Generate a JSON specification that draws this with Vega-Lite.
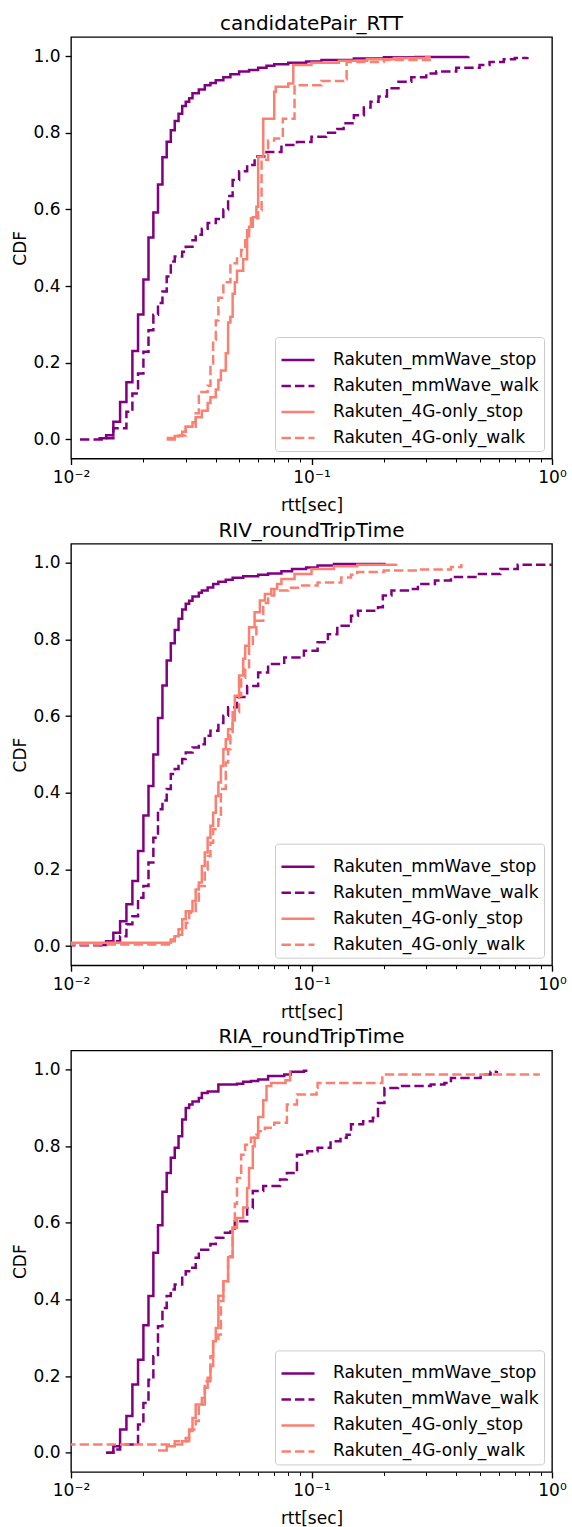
{
  "$schema": "https://vega.github.io/schema/vega-lite/v6.json",
  "padding": {"left": 10, "top": 13, "right": 0, "bottom": 0},
  "bounds": "flush",
  "spacing": 84.7,
  "resolve": {"legend": {"color": "independent", "strokeDash": "independent"}},
  "config": {
    "font": "DejaVu Sans",
    "view": {"stroke": "black", "strokeWidth": 1.35},
    "axis": {"domain": false, "grid": false, "labelFontSize": 17, "labelColor": "black", "titleFontSize": 17, "titleFontWeight": "normal", "titleColor": "black", "tickColor": "black", "labelFont": "DejaVu Sans", "titleFont": "DejaVu Sans"},
    "title": {"fontSize": 20, "fontWeight": "normal", "color": "black", "anchor": "middle", "offset": 3, "baseline": "alphabetic", "font": "DejaVu Sans"},
    "legend": {"orient": "bottom-right", "offset": 8, "padding": 5, "fillColor": "rgba(255,255,255,0.8)", "strokeColor": "#cccccc", "cornerRadius": 3, "symbolType": "stroke", "symbolSize": 1089, "symbolStrokeWidth": 2.5, "labelFontSize": 17, "labelColor": "black", "labelFont": "DejaVu Sans", "labelOffset": 17, "rowPadding": 0, "labelLimit": 400}
  },
  "datasets": {
    "p1": [
      {"series":"Rakuten_mmWave_stop","rtt":0.013,"cdf":0.003},{"series":"Rakuten_mmWave_stop","rtt":0.014,"cdf":0.011},{"series":"Rakuten_mmWave_stop","rtt":0.015,"cdf":0.046},{"series":"Rakuten_mmWave_stop","rtt":0.016,"cdf":0.098},{"series":"Rakuten_mmWave_stop","rtt":0.017,"cdf":0.149},{"series":"Rakuten_mmWave_stop","rtt":0.018,"cdf":0.231},{"series":"Rakuten_mmWave_stop","rtt":0.019,"cdf":0.326},{"series":"Rakuten_mmWave_stop","rtt":0.020,"cdf":0.417},{"series":"Rakuten_mmWave_stop","rtt":0.021,"cdf":0.527},{"series":"Rakuten_mmWave_stop","rtt":0.022,"cdf":0.592},{"series":"Rakuten_mmWave_stop","rtt":0.023,"cdf":0.665},{"series":"Rakuten_mmWave_stop","rtt":0.024,"cdf":0.736},{"series":"Rakuten_mmWave_stop","rtt":0.025,"cdf":0.777},{"series":"Rakuten_mmWave_stop","rtt":0.026,"cdf":0.807},{"series":"Rakuten_mmWave_stop","rtt":0.027,"cdf":0.831},{"series":"Rakuten_mmWave_stop","rtt":0.028,"cdf":0.850},{"series":"Rakuten_mmWave_stop","rtt":0.029,"cdf":0.870},{"series":"Rakuten_mmWave_stop","rtt":0.030,"cdf":0.881},{"series":"Rakuten_mmWave_stop","rtt":0.031,"cdf":0.890},{"series":"Rakuten_mmWave_stop","rtt":0.032,"cdf":0.903},{"series":"Rakuten_mmWave_stop","rtt":0.034,"cdf":0.913},{"series":"Rakuten_mmWave_stop","rtt":0.036,"cdf":0.924},{"series":"Rakuten_mmWave_stop","rtt":0.038,"cdf":0.930},{"series":"Rakuten_mmWave_stop","rtt":0.040,"cdf":0.937},{"series":"Rakuten_mmWave_stop","rtt":0.043,"cdf":0.945},{"series":"Rakuten_mmWave_stop","rtt":0.046,"cdf":0.953},{"series":"Rakuten_mmWave_stop","rtt":0.050,"cdf":0.960},{"series":"Rakuten_mmWave_stop","rtt":0.055,"cdf":0.964},{"series":"Rakuten_mmWave_stop","rtt":0.060,"cdf":0.970},{"series":"Rakuten_mmWave_stop","rtt":0.065,"cdf":0.975},{"series":"Rakuten_mmWave_stop","rtt":0.070,"cdf":0.979},{"series":"Rakuten_mmWave_stop","rtt":0.080,"cdf":0.983},{"series":"Rakuten_mmWave_stop","rtt":0.095,"cdf":0.986},{"series":"Rakuten_mmWave_stop","rtt":0.110,"cdf":0.990},{"series":"Rakuten_mmWave_stop","rtt":0.150,"cdf":0.994},{"series":"Rakuten_mmWave_stop","rtt":0.200,"cdf":0.997},{"series":"Rakuten_mmWave_stop","rtt":0.270,"cdf":0.998},{"series":"Rakuten_mmWave_stop","rtt":0.449,"cdf":1.0},
      {"series":"Rakuten_mmWave_walk","rtt":0.0109,"cdf":0.0},{"series":"Rakuten_mmWave_walk","rtt":0.014,"cdf":0.003},{"series":"Rakuten_mmWave_walk","rtt":0.015,"cdf":0.029},{"series":"Rakuten_mmWave_walk","rtt":0.017,"cdf":0.072},{"series":"Rakuten_mmWave_walk","rtt":0.018,"cdf":0.12},{"series":"Rakuten_mmWave_walk","rtt":0.019,"cdf":0.172},{"series":"Rakuten_mmWave_walk","rtt":0.020,"cdf":0.229},{"series":"Rakuten_mmWave_walk","rtt":0.021,"cdf":0.285},{"series":"Rakuten_mmWave_walk","rtt":0.022,"cdf":0.325},{"series":"Rakuten_mmWave_walk","rtt":0.023,"cdf":0.356},{"series":"Rakuten_mmWave_walk","rtt":0.024,"cdf":0.386},{"series":"Rakuten_mmWave_walk","rtt":0.025,"cdf":0.425},{"series":"Rakuten_mmWave_walk","rtt":0.026,"cdf":0.464},{"series":"Rakuten_mmWave_walk","rtt":0.027,"cdf":0.477},{"series":"Rakuten_mmWave_walk","rtt":0.029,"cdf":0.49},{"series":"Rakuten_mmWave_walk","rtt":0.030,"cdf":0.503},{"series":"Rakuten_mmWave_walk","rtt":0.032,"cdf":0.52},{"series":"Rakuten_mmWave_walk","rtt":0.033,"cdf":0.534},{"series":"Rakuten_mmWave_walk","rtt":0.035,"cdf":0.55},{"series":"Rakuten_mmWave_walk","rtt":0.037,"cdf":0.565},{"series":"Rakuten_mmWave_walk","rtt":0.040,"cdf":0.575},{"series":"Rakuten_mmWave_walk","rtt":0.043,"cdf":0.60},{"series":"Rakuten_mmWave_walk","rtt":0.045,"cdf":0.635},{"series":"Rakuten_mmWave_walk","rtt":0.047,"cdf":0.677},{"series":"Rakuten_mmWave_walk","rtt":0.050,"cdf":0.70},{"series":"Rakuten_mmWave_walk","rtt":0.054,"cdf":0.716},{"series":"Rakuten_mmWave_walk","rtt":0.058,"cdf":0.738},{"series":"Rakuten_mmWave_walk","rtt":0.065,"cdf":0.75},{"series":"Rakuten_mmWave_walk","rtt":0.075,"cdf":0.768},{"series":"Rakuten_mmWave_walk","rtt":0.087,"cdf":0.776},{"series":"Rakuten_mmWave_walk","rtt":0.100,"cdf":0.79},{"series":"Rakuten_mmWave_walk","rtt":0.115,"cdf":0.80},{"series":"Rakuten_mmWave_walk","rtt":0.128,"cdf":0.81},{"series":"Rakuten_mmWave_walk","rtt":0.136,"cdf":0.825},{"series":"Rakuten_mmWave_walk","rtt":0.150,"cdf":0.846},{"series":"Rakuten_mmWave_walk","rtt":0.165,"cdf":0.866},{"series":"Rakuten_mmWave_walk","rtt":0.176,"cdf":0.881},{"series":"Rakuten_mmWave_walk","rtt":0.190,"cdf":0.895},{"series":"Rakuten_mmWave_walk","rtt":0.206,"cdf":0.916},{"series":"Rakuten_mmWave_walk","rtt":0.230,"cdf":0.933},{"series":"Rakuten_mmWave_walk","rtt":0.26,"cdf":0.945},{"series":"Rakuten_mmWave_walk","rtt":0.30,"cdf":0.955},{"series":"Rakuten_mmWave_walk","rtt":0.33,"cdf":0.96},{"series":"Rakuten_mmWave_walk","rtt":0.40,"cdf":0.97},{"series":"Rakuten_mmWave_walk","rtt":0.50,"cdf":0.977},{"series":"Rakuten_mmWave_walk","rtt":0.55,"cdf":0.985},{"series":"Rakuten_mmWave_walk","rtt":0.63,"cdf":0.992},{"series":"Rakuten_mmWave_walk","rtt":0.70,"cdf":0.995},{"series":"Rakuten_mmWave_walk","rtt":0.79,"cdf":0.998},
      {"series":"Rakuten_4G-only_stop","rtt":0.025,"cdf":0.004},{"series":"Rakuten_4G-only_stop","rtt":0.027,"cdf":0.009},{"series":"Rakuten_4G-only_stop","rtt":0.029,"cdf":0.02},{"series":"Rakuten_4G-only_stop","rtt":0.030,"cdf":0.033},{"series":"Rakuten_4G-only_stop","rtt":0.032,"cdf":0.045},{"series":"Rakuten_4G-only_stop","rtt":0.033,"cdf":0.058},{"series":"Rakuten_4G-only_stop","rtt":0.035,"cdf":0.075},{"series":"Rakuten_4G-only_stop","rtt":0.037,"cdf":0.095},{"series":"Rakuten_4G-only_stop","rtt":0.038,"cdf":0.11},{"series":"Rakuten_4G-only_stop","rtt":0.040,"cdf":0.13},{"series":"Rakuten_4G-only_stop","rtt":0.041,"cdf":0.155},{"series":"Rakuten_4G-only_stop","rtt":0.042,"cdf":0.18},{"series":"Rakuten_4G-only_stop","rtt":0.044,"cdf":0.225},{"series":"Rakuten_4G-only_stop","rtt":0.045,"cdf":0.305},{"series":"Rakuten_4G-only_stop","rtt":0.046,"cdf":0.32},{"series":"Rakuten_4G-only_stop","rtt":0.047,"cdf":0.38},{"series":"Rakuten_4G-only_stop","rtt":0.048,"cdf":0.41},{"series":"Rakuten_4G-only_stop","rtt":0.049,"cdf":0.44},{"series":"Rakuten_4G-only_stop","rtt":0.052,"cdf":0.47},{"series":"Rakuten_4G-only_stop","rtt":0.054,"cdf":0.53},{"series":"Rakuten_4G-only_stop","rtt":0.055,"cdf":0.555},{"series":"Rakuten_4G-only_stop","rtt":0.057,"cdf":0.58},{"series":"Rakuten_4G-only_stop","rtt":0.059,"cdf":0.607},{"series":"Rakuten_4G-only_stop","rtt":0.060,"cdf":0.737},{"series":"Rakuten_4G-only_stop","rtt":0.063,"cdf":0.837},{"series":"Rakuten_4G-only_stop","rtt":0.070,"cdf":0.907},{"series":"Rakuten_4G-only_stop","rtt":0.071,"cdf":0.92},{"series":"Rakuten_4G-only_stop","rtt":0.080,"cdf":0.929},{"series":"Rakuten_4G-only_stop","rtt":0.084,"cdf":0.977},{"series":"Rakuten_4G-only_stop","rtt":0.10,"cdf":0.983},{"series":"Rakuten_4G-only_stop","rtt":0.13,"cdf":0.988},{"series":"Rakuten_4G-only_stop","rtt":0.17,"cdf":0.992},{"series":"Rakuten_4G-only_stop","rtt":0.22,"cdf":0.995},{"series":"Rakuten_4G-only_stop","rtt":0.30,"cdf":0.998},{"series":"Rakuten_4G-only_stop","rtt":0.31,"cdf":1.0},
      {"series":"Rakuten_4G-only_walk","rtt":0.025,"cdf":0.0},{"series":"Rakuten_4G-only_walk","rtt":0.028,"cdf":0.01},{"series":"Rakuten_4G-only_walk","rtt":0.030,"cdf":0.033},{"series":"Rakuten_4G-only_walk","rtt":0.033,"cdf":0.068},{"series":"Rakuten_4G-only_walk","rtt":0.034,"cdf":0.124},{"series":"Rakuten_4G-only_walk","rtt":0.037,"cdf":0.14},{"series":"Rakuten_4G-only_walk","rtt":0.038,"cdf":0.198},{"series":"Rakuten_4G-only_walk","rtt":0.039,"cdf":0.26},{"series":"Rakuten_4G-only_walk","rtt":0.040,"cdf":0.31},{"series":"Rakuten_4G-only_walk","rtt":0.041,"cdf":0.37},{"series":"Rakuten_4G-only_walk","rtt":0.043,"cdf":0.41},{"series":"Rakuten_4G-only_walk","rtt":0.046,"cdf":0.46},{"series":"Rakuten_4G-only_walk","rtt":0.049,"cdf":0.477},{"series":"Rakuten_4G-only_walk","rtt":0.051,"cdf":0.494},{"series":"Rakuten_4G-only_walk","rtt":0.053,"cdf":0.52},{"series":"Rakuten_4G-only_walk","rtt":0.054,"cdf":0.546},{"series":"Rakuten_4G-only_walk","rtt":0.056,"cdf":0.577},{"series":"Rakuten_4G-only_walk","rtt":0.060,"cdf":0.598},{"series":"Rakuten_4G-only_walk","rtt":0.062,"cdf":0.73},{"series":"Rakuten_4G-only_walk","rtt":0.066,"cdf":0.78},{"series":"Rakuten_4G-only_walk","rtt":0.070,"cdf":0.785},{"series":"Rakuten_4G-only_walk","rtt":0.076,"cdf":0.837},{"series":"Rakuten_4G-only_walk","rtt":0.085,"cdf":0.924},{"series":"Rakuten_4G-only_walk","rtt":0.11,"cdf":0.935},{"series":"Rakuten_4G-only_walk","rtt":0.139,"cdf":0.94},{"series":"Rakuten_4G-only_walk","rtt":0.140,"cdf":0.985},{"series":"Rakuten_4G-only_walk","rtt":0.20,"cdf":0.99},{"series":"Rakuten_4G-only_walk","rtt":0.31,"cdf":0.995}
    ],
    "p2": [
      {"series":"Rakuten_mmWave_stop","rtt":0.013,"cdf":0.003},{"series":"Rakuten_mmWave_stop","rtt":0.014,"cdf":0.013},{"series":"Rakuten_mmWave_stop","rtt":0.015,"cdf":0.035},{"series":"Rakuten_mmWave_stop","rtt":0.016,"cdf":0.065},{"series":"Rakuten_mmWave_stop","rtt":0.017,"cdf":0.109},{"series":"Rakuten_mmWave_stop","rtt":0.018,"cdf":0.17},{"series":"Rakuten_mmWave_stop","rtt":0.019,"cdf":0.248},{"series":"Rakuten_mmWave_stop","rtt":0.020,"cdf":0.341},{"series":"Rakuten_mmWave_stop","rtt":0.021,"cdf":0.418},{"series":"Rakuten_mmWave_stop","rtt":0.022,"cdf":0.50},{"series":"Rakuten_mmWave_stop","rtt":0.023,"cdf":0.595},{"series":"Rakuten_mmWave_stop","rtt":0.024,"cdf":0.68},{"series":"Rakuten_mmWave_stop","rtt":0.025,"cdf":0.745},{"series":"Rakuten_mmWave_stop","rtt":0.026,"cdf":0.79},{"series":"Rakuten_mmWave_stop","rtt":0.027,"cdf":0.825},{"series":"Rakuten_mmWave_stop","rtt":0.028,"cdf":0.854},{"series":"Rakuten_mmWave_stop","rtt":0.029,"cdf":0.878},{"series":"Rakuten_mmWave_stop","rtt":0.030,"cdf":0.893},{"series":"Rakuten_mmWave_stop","rtt":0.031,"cdf":0.901},{"series":"Rakuten_mmWave_stop","rtt":0.032,"cdf":0.912},{"series":"Rakuten_mmWave_stop","rtt":0.034,"cdf":0.922},{"series":"Rakuten_mmWave_stop","rtt":0.035,"cdf":0.928},{"series":"Rakuten_mmWave_stop","rtt":0.037,"cdf":0.936},{"series":"Rakuten_mmWave_stop","rtt":0.039,"cdf":0.945},{"series":"Rakuten_mmWave_stop","rtt":0.041,"cdf":0.951},{"series":"Rakuten_mmWave_stop","rtt":0.044,"cdf":0.956},{"series":"Rakuten_mmWave_stop","rtt":0.047,"cdf":0.961},{"series":"Rakuten_mmWave_stop","rtt":0.052,"cdf":0.965},{"series":"Rakuten_mmWave_stop","rtt":0.060,"cdf":0.969},{"series":"Rakuten_mmWave_stop","rtt":0.066,"cdf":0.972},{"series":"Rakuten_mmWave_stop","rtt":0.075,"cdf":0.978},{"series":"Rakuten_mmWave_stop","rtt":0.083,"cdf":0.984},{"series":"Rakuten_mmWave_stop","rtt":0.095,"cdf":0.988},{"series":"Rakuten_mmWave_stop","rtt":0.106,"cdf":0.993},{"series":"Rakuten_mmWave_stop","rtt":0.124,"cdf":0.997},{"series":"Rakuten_mmWave_stop","rtt":0.201,"cdf":1.0},
      {"series":"Rakuten_mmWave_walk","rtt":0.005,"cdf":0.002},{"series":"Rakuten_mmWave_walk","rtt":0.014,"cdf":0.013},{"series":"Rakuten_mmWave_walk","rtt":0.016,"cdf":0.026},{"series":"Rakuten_mmWave_walk","rtt":0.017,"cdf":0.057},{"series":"Rakuten_mmWave_walk","rtt":0.018,"cdf":0.078},{"series":"Rakuten_mmWave_walk","rtt":0.019,"cdf":0.126},{"series":"Rakuten_mmWave_walk","rtt":0.020,"cdf":0.157},{"series":"Rakuten_mmWave_walk","rtt":0.021,"cdf":0.218},{"series":"Rakuten_mmWave_walk","rtt":0.022,"cdf":0.283},{"series":"Rakuten_mmWave_walk","rtt":0.023,"cdf":0.357},{"series":"Rakuten_mmWave_walk","rtt":0.024,"cdf":0.38},{"series":"Rakuten_mmWave_walk","rtt":0.025,"cdf":0.41},{"series":"Rakuten_mmWave_walk","rtt":0.026,"cdf":0.449},{"series":"Rakuten_mmWave_walk","rtt":0.027,"cdf":0.462},{"series":"Rakuten_mmWave_walk","rtt":0.028,"cdf":0.47},{"series":"Rakuten_mmWave_walk","rtt":0.029,"cdf":0.488},{"series":"Rakuten_mmWave_walk","rtt":0.030,"cdf":0.505},{"series":"Rakuten_mmWave_walk","rtt":0.032,"cdf":0.518},{"series":"Rakuten_mmWave_walk","rtt":0.034,"cdf":0.527},{"series":"Rakuten_mmWave_walk","rtt":0.036,"cdf":0.549},{"series":"Rakuten_mmWave_walk","rtt":0.038,"cdf":0.562},{"series":"Rakuten_mmWave_walk","rtt":0.041,"cdf":0.582},{"series":"Rakuten_mmWave_walk","rtt":0.043,"cdf":0.601},{"series":"Rakuten_mmWave_walk","rtt":0.045,"cdf":0.623},{"series":"Rakuten_mmWave_walk","rtt":0.049,"cdf":0.65},{"series":"Rakuten_mmWave_walk","rtt":0.054,"cdf":0.679},{"series":"Rakuten_mmWave_walk","rtt":0.060,"cdf":0.714},{"series":"Rakuten_mmWave_walk","rtt":0.066,"cdf":0.736},{"series":"Rakuten_mmWave_walk","rtt":0.077,"cdf":0.753},{"series":"Rakuten_mmWave_walk","rtt":0.093,"cdf":0.771},{"series":"Rakuten_mmWave_walk","rtt":0.106,"cdf":0.793},{"series":"Rakuten_mmWave_walk","rtt":0.117,"cdf":0.814},{"series":"Rakuten_mmWave_walk","rtt":0.128,"cdf":0.836},{"series":"Rakuten_mmWave_walk","rtt":0.146,"cdf":0.862},{"series":"Rakuten_mmWave_walk","rtt":0.156,"cdf":0.875},{"series":"Rakuten_mmWave_walk","rtt":0.189,"cdf":0.884},{"series":"Rakuten_mmWave_walk","rtt":0.198,"cdf":0.915},{"series":"Rakuten_mmWave_walk","rtt":0.215,"cdf":0.928},{"series":"Rakuten_mmWave_walk","rtt":0.26,"cdf":0.932},{"series":"Rakuten_mmWave_walk","rtt":0.277,"cdf":0.945},{"series":"Rakuten_mmWave_walk","rtt":0.326,"cdf":0.954},{"series":"Rakuten_mmWave_walk","rtt":0.38,"cdf":0.963},{"series":"Rakuten_mmWave_walk","rtt":0.49,"cdf":0.971},{"series":"Rakuten_mmWave_walk","rtt":0.61,"cdf":0.984},{"series":"Rakuten_mmWave_walk","rtt":0.72,"cdf":0.995},{"series":"Rakuten_mmWave_walk","rtt":1.0,"cdf":0.997},
      {"series":"Rakuten_4G-only_stop","rtt":0.005,"cdf":0.009},{"series":"Rakuten_4G-only_stop","rtt":0.026,"cdf":0.017},{"series":"Rakuten_4G-only_stop","rtt":0.027,"cdf":0.026},{"series":"Rakuten_4G-only_stop","rtt":0.028,"cdf":0.044},{"series":"Rakuten_4G-only_stop","rtt":0.029,"cdf":0.07},{"series":"Rakuten_4G-only_stop","rtt":0.030,"cdf":0.091},{"series":"Rakuten_4G-only_stop","rtt":0.032,"cdf":0.118},{"series":"Rakuten_4G-only_stop","rtt":0.033,"cdf":0.148},{"series":"Rakuten_4G-only_stop","rtt":0.034,"cdf":0.166},{"series":"Rakuten_4G-only_stop","rtt":0.035,"cdf":0.209},{"series":"Rakuten_4G-only_stop","rtt":0.036,"cdf":0.244},{"series":"Rakuten_4G-only_stop","rtt":0.037,"cdf":0.283},{"series":"Rakuten_4G-only_stop","rtt":0.038,"cdf":0.314},{"series":"Rakuten_4G-only_stop","rtt":0.039,"cdf":0.348},{"series":"Rakuten_4G-only_stop","rtt":0.040,"cdf":0.392},{"series":"Rakuten_4G-only_stop","rtt":0.041,"cdf":0.427},{"series":"Rakuten_4G-only_stop","rtt":0.042,"cdf":0.47},{"series":"Rakuten_4G-only_stop","rtt":0.043,"cdf":0.514},{"series":"Rakuten_4G-only_stop","rtt":0.044,"cdf":0.54},{"series":"Rakuten_4G-only_stop","rtt":0.045,"cdf":0.566},{"series":"Rakuten_4G-only_stop","rtt":0.047,"cdf":0.61},{"series":"Rakuten_4G-only_stop","rtt":0.048,"cdf":0.653},{"series":"Rakuten_4G-only_stop","rtt":0.050,"cdf":0.706},{"series":"Rakuten_4G-only_stop","rtt":0.052,"cdf":0.75},{"series":"Rakuten_4G-only_stop","rtt":0.053,"cdf":0.784},{"series":"Rakuten_4G-only_stop","rtt":0.055,"cdf":0.832},{"series":"Rakuten_4G-only_stop","rtt":0.058,"cdf":0.871},{"series":"Rakuten_4G-only_stop","rtt":0.061,"cdf":0.902},{"series":"Rakuten_4G-only_stop","rtt":0.064,"cdf":0.919},{"series":"Rakuten_4G-only_stop","rtt":0.068,"cdf":0.932},{"series":"Rakuten_4G-only_stop","rtt":0.072,"cdf":0.945},{"series":"Rakuten_4G-only_stop","rtt":0.075,"cdf":0.958},{"series":"Rakuten_4G-only_stop","rtt":0.085,"cdf":0.971},{"series":"Rakuten_4G-only_stop","rtt":0.10,"cdf":0.984},{"series":"Rakuten_4G-only_stop","rtt":0.124,"cdf":0.991},{"series":"Rakuten_4G-only_stop","rtt":0.155,"cdf":0.995},{"series":"Rakuten_4G-only_stop","rtt":0.225,"cdf":0.998},
      {"series":"Rakuten_4G-only_walk","rtt":0.005,"cdf":0.004},{"series":"Rakuten_4G-only_walk","rtt":0.026,"cdf":0.013},{"series":"Rakuten_4G-only_walk","rtt":0.027,"cdf":0.03},{"series":"Rakuten_4G-only_walk","rtt":0.029,"cdf":0.044},{"series":"Rakuten_4G-only_walk","rtt":0.030,"cdf":0.061},{"series":"Rakuten_4G-only_walk","rtt":0.031,"cdf":0.087},{"series":"Rakuten_4G-only_walk","rtt":0.033,"cdf":0.113},{"series":"Rakuten_4G-only_walk","rtt":0.034,"cdf":0.157},{"series":"Rakuten_4G-only_walk","rtt":0.036,"cdf":0.2},{"series":"Rakuten_4G-only_walk","rtt":0.037,"cdf":0.235},{"series":"Rakuten_4G-only_walk","rtt":0.038,"cdf":0.27},{"series":"Rakuten_4G-only_walk","rtt":0.039,"cdf":0.305},{"series":"Rakuten_4G-only_walk","rtt":0.041,"cdf":0.331},{"series":"Rakuten_4G-only_walk","rtt":0.042,"cdf":0.41},{"series":"Rakuten_4G-only_walk","rtt":0.044,"cdf":0.479},{"series":"Rakuten_4G-only_walk","rtt":0.045,"cdf":0.514},{"series":"Rakuten_4G-only_walk","rtt":0.046,"cdf":0.55},{"series":"Rakuten_4G-only_walk","rtt":0.047,"cdf":0.58},{"series":"Rakuten_4G-only_walk","rtt":0.048,"cdf":0.61},{"series":"Rakuten_4G-only_walk","rtt":0.050,"cdf":0.653},{"series":"Rakuten_4G-only_walk","rtt":0.051,"cdf":0.70},{"series":"Rakuten_4G-only_walk","rtt":0.053,"cdf":0.723},{"series":"Rakuten_4G-only_walk","rtt":0.055,"cdf":0.784},{"series":"Rakuten_4G-only_walk","rtt":0.057,"cdf":0.81},{"series":"Rakuten_4G-only_walk","rtt":0.059,"cdf":0.849},{"series":"Rakuten_4G-only_walk","rtt":0.063,"cdf":0.895},{"series":"Rakuten_4G-only_walk","rtt":0.066,"cdf":0.915},{"series":"Rakuten_4G-only_walk","rtt":0.070,"cdf":0.928},{"series":"Rakuten_4G-only_walk","rtt":0.08,"cdf":0.935},{"series":"Rakuten_4G-only_walk","rtt":0.09,"cdf":0.941},{"series":"Rakuten_4G-only_walk","rtt":0.106,"cdf":0.949},{"series":"Rakuten_4G-only_walk","rtt":0.133,"cdf":0.962},{"series":"Rakuten_4G-only_walk","rtt":0.146,"cdf":0.969},{"series":"Rakuten_4G-only_walk","rtt":0.155,"cdf":0.976},{"series":"Rakuten_4G-only_walk","rtt":0.20,"cdf":0.98},{"series":"Rakuten_4G-only_walk","rtt":0.28,"cdf":0.983},{"series":"Rakuten_4G-only_walk","rtt":0.38,"cdf":0.989},{"series":"Rakuten_4G-only_walk","rtt":0.42,"cdf":0.997}
    ],
    "p3": [
      {"series":"Rakuten_mmWave_stop","rtt":0.014,"cdf":0.0},{"series":"Rakuten_mmWave_stop","rtt":0.015,"cdf":0.017},{"series":"Rakuten_mmWave_stop","rtt":0.016,"cdf":0.061},{"series":"Rakuten_mmWave_stop","rtt":0.017,"cdf":0.096},{"series":"Rakuten_mmWave_stop","rtt":0.018,"cdf":0.178},{"series":"Rakuten_mmWave_stop","rtt":0.019,"cdf":0.243},{"series":"Rakuten_mmWave_stop","rtt":0.020,"cdf":0.333},{"series":"Rakuten_mmWave_stop","rtt":0.021,"cdf":0.409},{"series":"Rakuten_mmWave_stop","rtt":0.022,"cdf":0.522},{"series":"Rakuten_mmWave_stop","rtt":0.023,"cdf":0.594},{"series":"Rakuten_mmWave_stop","rtt":0.024,"cdf":0.681},{"series":"Rakuten_mmWave_stop","rtt":0.025,"cdf":0.730},{"series":"Rakuten_mmWave_stop","rtt":0.026,"cdf":0.770},{"series":"Rakuten_mmWave_stop","rtt":0.027,"cdf":0.796},{"series":"Rakuten_mmWave_stop","rtt":0.028,"cdf":0.826},{"series":"Rakuten_mmWave_stop","rtt":0.029,"cdf":0.87},{"series":"Rakuten_mmWave_stop","rtt":0.030,"cdf":0.90},{"series":"Rakuten_mmWave_stop","rtt":0.031,"cdf":0.909},{"series":"Rakuten_mmWave_stop","rtt":0.032,"cdf":0.917},{"series":"Rakuten_mmWave_stop","rtt":0.034,"cdf":0.926},{"series":"Rakuten_mmWave_stop","rtt":0.035,"cdf":0.939},{"series":"Rakuten_mmWave_stop","rtt":0.037,"cdf":0.943},{"series":"Rakuten_mmWave_stop","rtt":0.041,"cdf":0.961},{"series":"Rakuten_mmWave_stop","rtt":0.049,"cdf":0.963},{"series":"Rakuten_mmWave_stop","rtt":0.052,"cdf":0.968},{"series":"Rakuten_mmWave_stop","rtt":0.056,"cdf":0.970},{"series":"Rakuten_mmWave_stop","rtt":0.060,"cdf":0.974},{"series":"Rakuten_mmWave_stop","rtt":0.066,"cdf":0.983},{"series":"Rakuten_mmWave_stop","rtt":0.077,"cdf":0.987},{"series":"Rakuten_mmWave_stop","rtt":0.082,"cdf":0.994},{"series":"Rakuten_mmWave_stop","rtt":0.093,"cdf":0.997},{"series":"Rakuten_mmWave_stop","rtt":0.095,"cdf":1.0},
      {"series":"Rakuten_mmWave_walk","rtt":0.014,"cdf":0.0},{"series":"Rakuten_mmWave_walk","rtt":0.015,"cdf":0.009},{"series":"Rakuten_mmWave_walk","rtt":0.016,"cdf":0.022},{"series":"Rakuten_mmWave_walk","rtt":0.019,"cdf":0.074},{"series":"Rakuten_mmWave_walk","rtt":0.020,"cdf":0.13},{"series":"Rakuten_mmWave_walk","rtt":0.021,"cdf":0.191},{"series":"Rakuten_mmWave_walk","rtt":0.022,"cdf":0.252},{"series":"Rakuten_mmWave_walk","rtt":0.023,"cdf":0.33},{"series":"Rakuten_mmWave_walk","rtt":0.024,"cdf":0.378},{"series":"Rakuten_mmWave_walk","rtt":0.025,"cdf":0.409},{"series":"Rakuten_mmWave_walk","rtt":0.026,"cdf":0.426},{"series":"Rakuten_mmWave_walk","rtt":0.027,"cdf":0.439},{"series":"Rakuten_mmWave_walk","rtt":0.029,"cdf":0.465},{"series":"Rakuten_mmWave_walk","rtt":0.030,"cdf":0.474},{"series":"Rakuten_mmWave_walk","rtt":0.031,"cdf":0.483},{"series":"Rakuten_mmWave_walk","rtt":0.033,"cdf":0.509},{"series":"Rakuten_mmWave_walk","rtt":0.034,"cdf":0.53},{"series":"Rakuten_mmWave_walk","rtt":0.038,"cdf":0.545},{"series":"Rakuten_mmWave_walk","rtt":0.040,"cdf":0.561},{"series":"Rakuten_mmWave_walk","rtt":0.043,"cdf":0.574},{"series":"Rakuten_mmWave_walk","rtt":0.046,"cdf":0.585},{"series":"Rakuten_mmWave_walk","rtt":0.048,"cdf":0.604},{"series":"Rakuten_mmWave_walk","rtt":0.054,"cdf":0.639},{"series":"Rakuten_mmWave_walk","rtt":0.057,"cdf":0.683},{"series":"Rakuten_mmWave_walk","rtt":0.063,"cdf":0.696},{"series":"Rakuten_mmWave_walk","rtt":0.074,"cdf":0.713},{"series":"Rakuten_mmWave_walk","rtt":0.079,"cdf":0.73},{"series":"Rakuten_mmWave_walk","rtt":0.087,"cdf":0.778},{"series":"Rakuten_mmWave_walk","rtt":0.096,"cdf":0.787},{"series":"Rakuten_mmWave_walk","rtt":0.106,"cdf":0.796},{"series":"Rakuten_mmWave_walk","rtt":0.12,"cdf":0.813},{"series":"Rakuten_mmWave_walk","rtt":0.132,"cdf":0.822},{"series":"Rakuten_mmWave_walk","rtt":0.14,"cdf":0.83},{"series":"Rakuten_mmWave_walk","rtt":0.146,"cdf":0.857},{"series":"Rakuten_mmWave_walk","rtt":0.164,"cdf":0.865},{"series":"Rakuten_mmWave_walk","rtt":0.18,"cdf":0.874},{"series":"Rakuten_mmWave_walk","rtt":0.189,"cdf":0.913},{"series":"Rakuten_mmWave_walk","rtt":0.201,"cdf":0.952},{"series":"Rakuten_mmWave_walk","rtt":0.229,"cdf":0.957},{"series":"Rakuten_mmWave_walk","rtt":0.313,"cdf":0.961},{"series":"Rakuten_mmWave_walk","rtt":0.357,"cdf":0.965},{"series":"Rakuten_mmWave_walk","rtt":0.38,"cdf":0.978},{"series":"Rakuten_mmWave_walk","rtt":0.505,"cdf":0.987},{"series":"Rakuten_mmWave_walk","rtt":0.555,"cdf":0.994},{"series":"Rakuten_mmWave_walk","rtt":0.59,"cdf":0.996},
      {"series":"Rakuten_4G-only_stop","rtt":0.023,"cdf":0.006},{"series":"Rakuten_4G-only_stop","rtt":0.025,"cdf":0.017},{"series":"Rakuten_4G-only_stop","rtt":0.027,"cdf":0.022},{"series":"Rakuten_4G-only_stop","rtt":0.029,"cdf":0.03},{"series":"Rakuten_4G-only_stop","rtt":0.030,"cdf":0.039},{"series":"Rakuten_4G-only_stop","rtt":0.031,"cdf":0.057},{"series":"Rakuten_4G-only_stop","rtt":0.032,"cdf":0.091},{"series":"Rakuten_4G-only_stop","rtt":0.033,"cdf":0.126},{"series":"Rakuten_4G-only_stop","rtt":0.035,"cdf":0.143},{"series":"Rakuten_4G-only_stop","rtt":0.036,"cdf":0.17},{"series":"Rakuten_4G-only_stop","rtt":0.037,"cdf":0.196},{"series":"Rakuten_4G-only_stop","rtt":0.038,"cdf":0.226},{"series":"Rakuten_4G-only_stop","rtt":0.039,"cdf":0.291},{"series":"Rakuten_4G-only_stop","rtt":0.040,"cdf":0.326},{"series":"Rakuten_4G-only_stop","rtt":0.041,"cdf":0.41},{"series":"Rakuten_4G-only_stop","rtt":0.043,"cdf":0.448},{"series":"Rakuten_4G-only_stop","rtt":0.045,"cdf":0.51},{"series":"Rakuten_4G-only_stop","rtt":0.047,"cdf":0.587},{"series":"Rakuten_4G-only_stop","rtt":0.049,"cdf":0.613},{"series":"Rakuten_4G-only_stop","rtt":0.052,"cdf":0.64},{"series":"Rakuten_4G-only_stop","rtt":0.054,"cdf":0.691},{"series":"Rakuten_4G-only_stop","rtt":0.055,"cdf":0.743},{"series":"Rakuten_4G-only_stop","rtt":0.057,"cdf":0.80},{"series":"Rakuten_4G-only_stop","rtt":0.058,"cdf":0.822},{"series":"Rakuten_4G-only_stop","rtt":0.060,"cdf":0.876},{"series":"Rakuten_4G-only_stop","rtt":0.063,"cdf":0.92},{"series":"Rakuten_4G-only_stop","rtt":0.065,"cdf":0.957},{"series":"Rakuten_4G-only_stop","rtt":0.068,"cdf":0.965},{"series":"Rakuten_4G-only_stop","rtt":0.078,"cdf":0.972},{"series":"Rakuten_4G-only_stop","rtt":0.0815,"cdf":0.997},
      {"series":"Rakuten_4G-only_walk","rtt":0.005,"cdf":0.022},{"series":"Rakuten_4G-only_walk","rtt":0.027,"cdf":0.03},{"series":"Rakuten_4G-only_walk","rtt":0.031,"cdf":0.061},{"series":"Rakuten_4G-only_walk","rtt":0.033,"cdf":0.083},{"series":"Rakuten_4G-only_walk","rtt":0.034,"cdf":0.126},{"series":"Rakuten_4G-only_walk","rtt":0.036,"cdf":0.187},{"series":"Rakuten_4G-only_walk","rtt":0.038,"cdf":0.252},{"series":"Rakuten_4G-only_walk","rtt":0.039,"cdf":0.291},{"series":"Rakuten_4G-only_walk","rtt":0.041,"cdf":0.309},{"series":"Rakuten_4G-only_walk","rtt":0.042,"cdf":0.396},{"series":"Rakuten_4G-only_walk","rtt":0.043,"cdf":0.443},{"series":"Rakuten_4G-only_walk","rtt":0.045,"cdf":0.513},{"series":"Rakuten_4G-only_walk","rtt":0.047,"cdf":0.587},{"series":"Rakuten_4G-only_walk","rtt":0.048,"cdf":0.65},{"series":"Rakuten_4G-only_walk","rtt":0.049,"cdf":0.717},{"series":"Rakuten_4G-only_walk","rtt":0.051,"cdf":0.778},{"series":"Rakuten_4G-only_walk","rtt":0.053,"cdf":0.804},{"series":"Rakuten_4G-only_walk","rtt":0.056,"cdf":0.822},{"series":"Rakuten_4G-only_walk","rtt":0.059,"cdf":0.83},{"series":"Rakuten_4G-only_walk","rtt":0.060,"cdf":0.839},{"series":"Rakuten_4G-only_walk","rtt":0.064,"cdf":0.848},{"series":"Rakuten_4G-only_walk","rtt":0.070,"cdf":0.861},{"series":"Rakuten_4G-only_walk","rtt":0.079,"cdf":0.909},{"series":"Rakuten_4G-only_walk","rtt":0.087,"cdf":0.935},{"series":"Rakuten_4G-only_walk","rtt":0.105,"cdf":0.952},{"series":"Rakuten_4G-only_walk","rtt":0.106,"cdf":0.965},{"series":"Rakuten_4G-only_walk","rtt":0.197,"cdf":0.987},{"series":"Rakuten_4G-only_walk","rtt":0.88,"cdf":0.99}
    ]
  },
  "vconcat": [
    {
      "data": {"name": "p1"},
      "title": "candidatePair_RTT",
      "width": 481, "height": 421.6,
      "mark": {"type": "line", "interpolate": "step-after", "clip": true, "strokeWidth": 2.5},
      "encoding": {
        "x": {"field": "rtt", "type": "quantitative", "title": "rtt[sec]", "scale": {"type": "log", "domain": [0.01, 1], "nice": false},
          "axis": {"values": [0.01,0.02,0.03,0.04,0.05,0.06,0.07,0.08,0.09,0.1,0.2,0.3,0.4,0.5,0.6,0.7,0.8,0.9,1], "labelExpr": "datum.value == 0.01 ? '10⁻²' : datum.value == 0.1 ? '10⁻¹' : datum.value == 1 ? '10⁰' : ''", "tickSize": {"condition": {"test": "datum.value == 0.01 || datum.value == 0.1 || datum.value == 1", "value": 5.9}, "value": 3.4}, "tickWidth": {"condition": {"test": "datum.value == 0.01 || datum.value == 0.1 || datum.value == 1", "value": 1.35}, "value": 1}, "labelPadding": 5, "titlePadding": 12, "labelFlush": false, "labelOverlap": false, "labelBound": false}},
        "y": {"field": "cdf", "type": "quantitative", "title": "CDF", "scale": {"domain": [-0.05, 1.05], "nice": false, "zero": false},
          "axis": {"values": [0,0.2,0.4,0.6,0.8,1], "format": ".1f", "tickSize": 5.9, "tickWidth": 1.35, "labelPadding": 5, "titlePadding": 4}},
        "color": {"field": "series", "type": "nominal", "title": null, "scale": {"domain": ["Rakuten_mmWave_stop","Rakuten_mmWave_walk","Rakuten_4G-only_stop","Rakuten_4G-only_walk"], "range": ["#800080","#800080","#FA8072","#FA8072"]}},
        "strokeDash": {"field": "series", "type": "nominal", "title": null, "scale": {"domain": ["Rakuten_mmWave_stop","Rakuten_mmWave_walk","Rakuten_4G-only_stop","Rakuten_4G-only_walk"], "range": [[1,0],[9.4,4.1],[1,0],[9.4,4.1]]}}
      }
    },
    {
      "data": {"name": "p2"},
      "title": "RIV_roundTripTime",
      "width": 481, "height": 421.6,
      "mark": {"type": "line", "interpolate": "step-after", "clip": true, "strokeWidth": 2.5},
      "encoding": {
        "x": {"field": "rtt", "type": "quantitative", "title": "rtt[sec]", "scale": {"type": "log", "domain": [0.01, 1], "nice": false},
          "axis": {"values": [0.01,0.02,0.03,0.04,0.05,0.06,0.07,0.08,0.09,0.1,0.2,0.3,0.4,0.5,0.6,0.7,0.8,0.9,1], "labelExpr": "datum.value == 0.01 ? '10⁻²' : datum.value == 0.1 ? '10⁻¹' : datum.value == 1 ? '10⁰' : ''", "tickSize": {"condition": {"test": "datum.value == 0.01 || datum.value == 0.1 || datum.value == 1", "value": 5.9}, "value": 3.4}, "tickWidth": {"condition": {"test": "datum.value == 0.01 || datum.value == 0.1 || datum.value == 1", "value": 1.35}, "value": 1}, "labelPadding": 5, "titlePadding": 12, "labelFlush": false, "labelOverlap": false, "labelBound": false}},
        "y": {"field": "cdf", "type": "quantitative", "title": "CDF", "scale": {"domain": [-0.05, 1.05], "nice": false, "zero": false},
          "axis": {"values": [0,0.2,0.4,0.6,0.8,1], "format": ".1f", "tickSize": 5.9, "tickWidth": 1.35, "labelPadding": 5, "titlePadding": 4}},
        "color": {"field": "series", "type": "nominal", "title": null, "scale": {"domain": ["Rakuten_mmWave_stop","Rakuten_mmWave_walk","Rakuten_4G-only_stop","Rakuten_4G-only_walk"], "range": ["#800080","#800080","#FA8072","#FA8072"]}},
        "strokeDash": {"field": "series", "type": "nominal", "title": null, "scale": {"domain": ["Rakuten_mmWave_stop","Rakuten_mmWave_walk","Rakuten_4G-only_stop","Rakuten_4G-only_walk"], "range": [[1,0],[9.4,4.1],[1,0],[9.4,4.1]]}}
      }
    },
    {
      "data": {"name": "p3"},
      "title": "RIA_roundTripTime",
      "width": 481, "height": 421.6,
      "mark": {"type": "line", "interpolate": "step-after", "clip": true, "strokeWidth": 2.5},
      "encoding": {
        "x": {"field": "rtt", "type": "quantitative", "title": "rtt[sec]", "scale": {"type": "log", "domain": [0.01, 1], "nice": false},
          "axis": {"values": [0.01,0.02,0.03,0.04,0.05,0.06,0.07,0.08,0.09,0.1,0.2,0.3,0.4,0.5,0.6,0.7,0.8,0.9,1], "labelExpr": "datum.value == 0.01 ? '10⁻²' : datum.value == 0.1 ? '10⁻¹' : datum.value == 1 ? '10⁰' : ''", "tickSize": {"condition": {"test": "datum.value == 0.01 || datum.value == 0.1 || datum.value == 1", "value": 5.9}, "value": 3.4}, "tickWidth": {"condition": {"test": "datum.value == 0.01 || datum.value == 0.1 || datum.value == 1", "value": 1.35}, "value": 1}, "labelPadding": 5, "titlePadding": 12, "labelFlush": false, "labelOverlap": false, "labelBound": false}},
        "y": {"field": "cdf", "type": "quantitative", "title": "CDF", "scale": {"domain": [-0.05, 1.05], "nice": false, "zero": false},
          "axis": {"values": [0,0.2,0.4,0.6,0.8,1], "format": ".1f", "tickSize": 5.9, "tickWidth": 1.35, "labelPadding": 5, "titlePadding": 4}},
        "color": {"field": "series", "type": "nominal", "title": null, "scale": {"domain": ["Rakuten_mmWave_stop","Rakuten_mmWave_walk","Rakuten_4G-only_stop","Rakuten_4G-only_walk"], "range": ["#800080","#800080","#FA8072","#FA8072"]}},
        "strokeDash": {"field": "series", "type": "nominal", "title": null, "scale": {"domain": ["Rakuten_mmWave_stop","Rakuten_mmWave_walk","Rakuten_4G-only_stop","Rakuten_4G-only_walk"], "range": [[1,0],[9.4,4.1],[1,0],[9.4,4.1]]}}
      }
    }
  ]
}
